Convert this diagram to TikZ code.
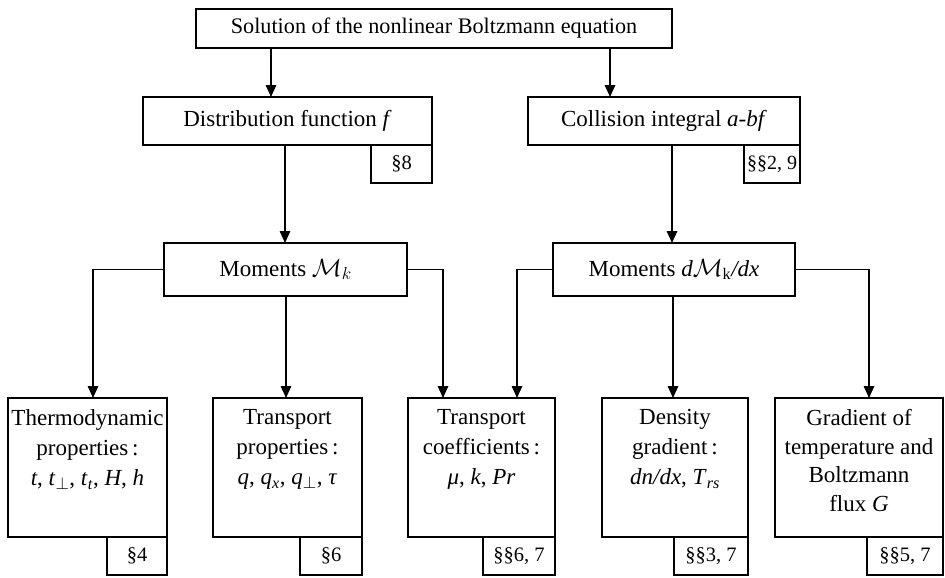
\documentclass[tikz,border=0pt]{standalone}
\usepackage{fontspec}
\setmainfont{Liberation Serif}
\usetikzlibrary{arrows.meta}
\begin{document}
\begin{tikzpicture}[x=1pt,y=-1pt,
  bx/.style={draw, line width=2.8pt, inner sep=0pt, outer sep=0pt, rectangle},
  tab/.style={bx, font=\fontsize{20.5}{24}\selectfont},
  lbl/.style={align=center, inner sep=0pt, font=\fontsize{23}{30}\selectfont},
  conn/.style={line width=1.6pt},
  arr/.style={conn, -{Triangle[length=12pt,width=10.5pt]}}]
\useasboundingbox (0,0) rectangle (945,578);
% top levels
\node[bx, lbl, font=\fontsize{22.2}{30}\selectfont, minimum width=476pt, minimum height=39pt] (top) at (434,28.5) {Solution of the nonlinear Boltzmann equation};
\node[bx, lbl, minimum width=289pt, minimum height=48pt] (dist) at (287.5,121) {Distribution function \textit{f}};
\node[tab, minimum width=61pt, minimum height=38pt] (s8) at (401.5,164) {§8};
\node[bx, lbl, minimum width=272pt, minimum height=48pt] (coll) at (664,121) {Collision integral \textit{a-bf}};
\node[tab, font=\fontsize{20}{24}\selectfont, minimum width=56pt, minimum height=38pt] (s29) at (772,164) {§§2, 9};
\node[bx, lbl, minimum width=243pt, minimum height=53pt] (mk) at (285.5,269.5) {Moments $\mathcal{M}_k$};
\node[bx, lbl, minimum width=242pt, minimum height=53pt] (mdx) at (674,269.5) {Moments \textit{d}$\mathcal{M}_{\mathrm{k}}$\textit{/dx}};
% bottom boxes
\node[bx, minimum width=159pt, minimum height=139pt] (th) at (87.5,467.5) {};
\node[bx, minimum width=149pt, minimum height=139pt] (tp) at (287.5,467.5) {};
\node[bx, minimum width=147pt, minimum height=139pt] (tc) at (481.5,467.5) {};
\node[bx, minimum width=146pt, minimum height=139pt] (dg) at (675,467.5) {};
\node[bx, minimum width=168pt, minimum height=139pt] (gt) at (859,467.5) {};
\node[lbl, anchor=north] (thT) at ([yshift=-11.5pt]th.north) {Thermodynamic\\properties\,:\\\textit{t}, \textit{t}$_\perp$, \textit{t}\textsubscript{\textit{t}}, \textit{H}, \textit{h}};
\node[lbl, anchor=north] (tpT) at ([yshift=-11.5pt]tp.north) {Transport\\properties\,:\\\textit{q}, \textit{q}\textsubscript{\textit{x}}, \textit{q}$_\perp$, \textit{τ}};
\node[lbl, anchor=north] (tcT) at ([yshift=-11.5pt]tc.north) {Transport\\coefficients\,:\\\textit{μ}, \textit{k}, \textit{Pr}};
\node[lbl, anchor=north] (dgT) at ([yshift=-11.5pt]dg.north) {Density\\gradient\,:\\\textit{dn/dx}, \textit{T}\textsubscript{\textit{rs}}};
\node[lbl, anchor=north, font=\fontsize{23}{28.5}\selectfont] (gtT) at ([yshift=-11.5pt]gt.north) {Gradient of\\temperature and\\Boltzmann\\flux \textit{G}};
\node[tab, minimum width=60pt, minimum height=38pt] (t4) at (137,556) {§4};
\node[tab, minimum width=62pt, minimum height=38pt] (t6) at (331,556) {§6};
\node[tab, minimum width=72pt, minimum height=38pt] (t67) at (519,556) {§§6, 7};
\node[tab, minimum width=74pt, minimum height=38pt] (t37) at (711,556) {§§3, 7};
\node[tab, minimum width=76pt, minimum height=38pt] (t57) at (905,556) {§§5, 7};
% connectors
\coordinate (a1) at (271,0); \coordinate (a2) at (610,0);
\coordinate (a3) at (285,0); \coordinate (a4) at (672,0);
\coordinate (a5) at (286,0); \coordinate (a6) at (673,0);
\coordinate (b1) at (93,0);  \coordinate (b2) at (443,0);
\coordinate (b3) at (517,0); \coordinate (b4) at (869,0);
\draw[arr] (top.south -| a1) -- (dist.north -| a1);
\draw[arr] (top.south -| a2) -- (coll.north -| a2);
\draw[arr] (dist.south -| a3) -- (mk.north -| a3);
\draw[arr] (coll.south -| a4) -- (mdx.north -| a4);
\draw[arr] (mk.west) -| (th.north -| b1);
\draw[arr] (mk.south -| a5) -- (tp.north -| a5);
\draw[arr] (mk.east) -| (tc.north -| b2);
\draw[arr] (mdx.west) -| (tc.north -| b3);
\draw[arr] (mdx.south -| a6) -- (dg.north -| a6);
\draw[arr] (mdx.east) -| (gt.north -| b4);
\end{tikzpicture}
\end{document}
